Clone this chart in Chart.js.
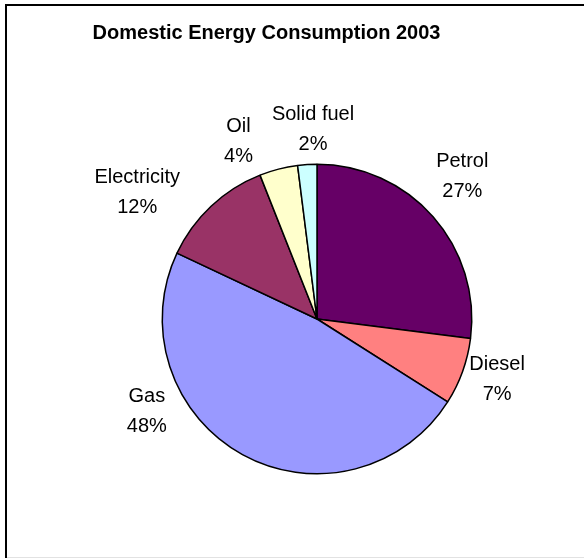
<!DOCTYPE html>
<html>
<head>
<meta charset="utf-8">
<title>Domestic Energy Consumption 2003</title>
<script src="https://cdn.jsdelivr.net/npm/chart.js@4/dist/chart.umd.min.js"></script>
<style>
  html, body { margin: 0; padding: 0; background: #fff; overflow: hidden; }
  body { width: 584px; height: 558px; position: relative; }
  #frame {
    position: absolute; left: 5px; top: 4px; width: 640px; height: 560px;
    border-left: 2px solid #000; border-top: 2px solid #000;
  }
  #baseline {
    position: absolute; left: 7px; top: 557px; width: 577px; height: 1px; background: #e2e2e2;
  }
  #chart { position: absolute; left: 0; top: 0; }
</style>
</head>
<body>
<div id="frame"></div>
<div id="baseline"></div>
<canvas id="chart" width="584" height="558"></canvas>
<script>
// Domestic energy use by fuel, 2003 (percent of total)
const chartTitle = 'Domestic Energy Consumption 2003';
const categories = ['Petrol', 'Diesel', 'Gas', 'Electricity', 'Oil', 'Solid fuel'];
const shares = [27, 7, 48, 12, 4, 2];
const sliceColors = ['#660066', '#FF8080', '#9999FF', '#993366', '#FFFFCC', '#CCFFFF'];

// Where each two-line label sits: angle (degrees clockwise from 12 o'clock)
// and distance as a multiple of the pie radius.
const labelAngles = [45.6, 108.6, 241.6, 305.1, 336.1, 358.8];
const labelDistances = [1.314, 1.228, 1.25, 1.42, 1.252, 1.222];

const FONT = "'Liberation Sans', Arial, Helvetica, sans-serif";

// Heading, centred over the left part of the chart frame
const heading = {
  id: 'heading',
  afterDraw(chart, args, opts) {
    const ctx = chart.ctx;
    ctx.save();
    ctx.font = 'bold 20px ' + FONT;
    ctx.fillStyle = '#000';
    ctx.textAlign = 'center';
    ctx.textBaseline = 'middle';
    ctx.fillText(opts.text, opts.x, opts.y);
    ctx.restore();
  }
};

const sliceLabels = {
  id: 'sliceLabels',
  afterDatasetsDraw(chart) {
    const ctx = chart.ctx;
    const meta = chart.getDatasetMeta(0);
    const values = chart.data.datasets[0].data;
    ctx.save();
    ctx.font = '20px ' + FONT;
    ctx.fillStyle = '#000';
    ctx.textAlign = 'center';
    ctx.textBaseline = 'middle';
    meta.data.forEach((arc, i) => {
      const a = labelAngles[i] * Math.PI / 180;
      const d = arc.outerRadius * labelDistances[i];
      const cx = arc.x + d * Math.sin(a);
      const cy = arc.y - d * Math.cos(a);
      ctx.fillText(chart.data.labels[i], cx, cy - 15);
      ctx.fillText(values[i] + '%', cx, cy + 15);
    });
    ctx.restore();
  }
};

new Chart(document.getElementById('chart'), {
  type: 'pie',
  data: {
    labels: categories,
    datasets: [{
      data: shares,
      backgroundColor: sliceColors,
      borderColor: '#000',
      borderWidth: 1.5
    }]
  },
  options: {
    responsive: false,
    animation: false,
    devicePixelRatio: 1,
    layout: { padding: { left: 161.5, right: 111.5, top: 163.5, bottom: 83.5 } },
    plugins: {
      legend: { display: false },
      tooltip: { enabled: false },
      title: { display: false },
      heading: { text: chartTitle, x: 266.5, y: 33 }
    }
  },
  plugins: [sliceLabels, heading]
});
</script>
</body>
</html>
